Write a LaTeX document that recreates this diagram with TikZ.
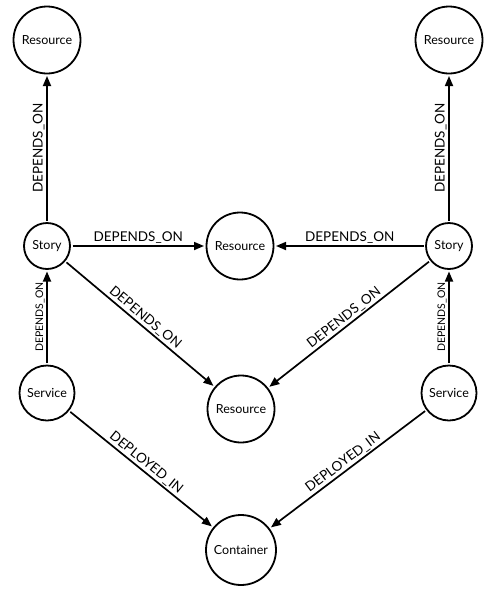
\documentclass[tikz,border=0pt]{standalone}
\usepackage{fontspec}
\setmainfont{Lato}
\usetikzlibrary{arrows.meta}

\begin{document}
\begin{tikzpicture}[x=1pt, y=1pt,
		ent/.style={circle, draw, line width=1.8pt, inner sep=0pt, outer sep=2.5pt, font=\fontsize{12.5}{14}\selectfont},
		rel/.style={line width=1.7pt, -{Triangle[length=10pt,width=8pt]}},
		lab/.style={midway, sloped, above, inner sep=1.5pt, font=\fontsize{13.5}{15}\selectfont}]
	\useasboundingbox (0,0) rectangle (488,-600);
	\node[ent, minimum size=67pt] (0) at (47,-40) {Resource};
	\node[ent, minimum size=67pt] (1) at (449,-40) {Resource};
	\node[ent, minimum size=46pt] (2) at (47,-246) {Story};
	\node[ent, minimum size=67pt] (3) at (240,-246) {Resource};
	\node[ent, minimum size=46pt] (4) at (449,-246) {Story};
	\node[ent, minimum size=55pt] (5) at (47,-393) {Service};
	\node[ent, minimum size=67pt] (6) at (241,-409) {Resource};
	\node[ent, minimum size=55pt] (7) at (449,-393) {Service};
	\node[ent, minimum size=70pt] (8) at (241,-550) {Container};
	
	\draw[rel] (2) -- (0) node[lab] () {DEPENDS\_ON};
	\draw[rel] (2) -- (3) node[lab] () {DEPENDS\_ON};
	\draw[rel] (2) -- (6) node[lab] () {DEPENDS\_ON};
	\draw[rel] (4) -- (1) node[lab] () {DEPENDS\_ON};
	\draw[rel] (4) -- (3) node[lab] () {DEPENDS\_ON};
	\draw[rel] (4) -- (6) node[lab] () {DEPENDS\_ON};
	\draw[rel] (5) -- (2) node[lab, font=\fontsize{10.5}{12}\selectfont] () {DEPENDS\_ON};
	\draw[rel] (7) -- (4) node[lab, font=\fontsize{10.5}{12}\selectfont] () {DEPENDS\_ON};
	\draw[rel] (5) -- (8) node[lab] () {DEPLOYED\_IN};
	\draw[rel] (7) -- (8) node[lab] () {DEPLOYED\_IN};
\end{tikzpicture}
\end{document}
